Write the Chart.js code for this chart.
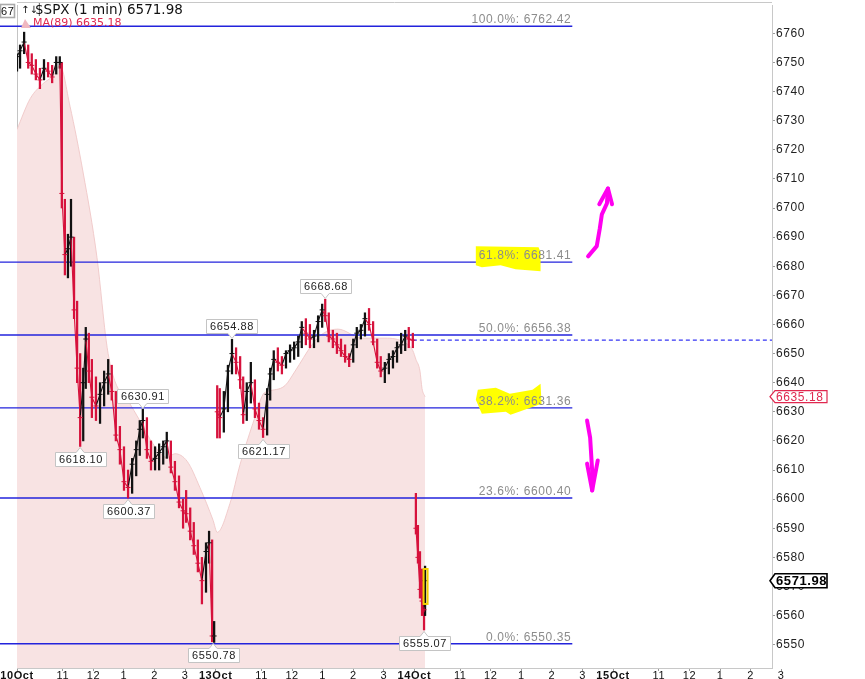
<!DOCTYPE html>
<html>
<head>
<meta charset="utf-8">
<title>$SPX (1 min)</title>
<script src="https://cdn.jsdelivr.net/npm/chart.js@4.4.1/dist/chart.umd.min.js"></script>
<style>
  html, body { margin: 0; padding: 0; background: #fff; }
  #wrap { width: 865px; height: 679px; }
</style>
</head>
<body>
<div id="wrap"><canvas id="spx" width="865" height="679"></canvas></div>
<script>
// trading days shown on the axis (9:30 - 16:00 each, 390 minutes)
const dayKeys = ['10', '13', '14', '15'];
const dayNames = ['10Oct', '13Oct', '14Oct', '15Oct'];
const hourTickTimes = ['11:00', '12:00', '13:00', '14:00', '15:00'];
const hourTickLabels = ['11', '12', '1', '2', '3'];
const yTicks = [6550, 6560, 6570, 6580, 6590, 6600, 6610, 6620, 6630, 6640, 6650,
  6660, 6670, 6680, 6690, 6700, 6710, 6720, 6730, 6740, 6750, 6760];

// price bars (roughly every 6-8 minutes)
const barTime = [
  '10 09:30', '10 09:36', '10 09:44', '10 09:52', '10 09:59', '10 10:07', '10 10:15', '10 10:23',
  '10 10:31', '10 10:39', '10 10:47', '10 10:54', '10 10:58', '10 11:04', '10 11:10', '10 11:16',
  '10 11:22', '10 11:28', '10 11:34', '10 11:40', '10 11:45', '10 11:51', '10 11:57', '10 12:05',
  '10 12:13', '10 12:21', '10 12:29', '10 12:36', '10 12:44', '10 12:52', '10 13:00', '10 13:08',
  '10 13:16', '10 13:24', '10 13:31', '10 13:37', '10 13:45', '10 13:53', '10 14:01', '10 14:09',
  '10 14:17', '10 14:24', '10 14:32', '10 14:40', '10 14:48', '10 14:56', '10 15:02', '10 15:10',
  '10 15:17', '10 15:25', '10 15:33', '10 15:41', '10 15:47', '10 15:53', '10 15:57',
  '13 09:33', '13 09:38', '13 09:46', '13 09:54', '13 10:02', '13 10:10', '13 10:18', '13 10:24',
  '13 10:31', '13 10:39', '13 10:47', '13 10:55', '13 11:03', '13 11:11', '13 11:17', '13 11:24',
  '13 11:32', '13 11:40', '13 11:48', '13 11:56', '13 12:04', '13 12:12', '13 12:19', '13 12:27',
  '13 12:35', '13 12:43', '13 12:51', '13 12:59', '13 13:05', '13 13:12', '13 13:20', '13 13:28',
  '13 13:36', '13 13:44', '13 13:52', '13 14:00', '13 14:07', '13 14:15', '13 14:23', '13 14:31',
  '13 14:39', '13 14:47', '13 14:54', '13 15:02', '13 15:10', '13 15:18', '13 15:26', '13 15:34',
  '13 15:42', '13 15:49', '13 15:57',
  '14 09:33', '14 09:37', '14 09:41', '14 09:45', '14 09:49', '14 09:51'
];
const barHigh = [
  6753, 6756, 6760.4, 6756, 6753, 6751, 6748, 6751, 6750, 6749, 6752, 6752, 6750, 6703, 6691, 6703,
  6690, 6668, 6650, 6645, 6659, 6657, 6648, 6642, 6640, 6644, 6648, 6646, 6637, 6625, 6618, 6610,
  6614, 6620, 6627, 6630.91, 6628, 6620, 6618, 6619, 6620, 6623, 6620, 6613, 6608, 6600, 6603, 6597,
  6592, 6586, 6580, 6585, 6589, 6586, 6558,
  6639, 6638, 6637, 6646, 6654.88, 6652, 6649, 6642, 6640, 6647, 6641, 6633, 6628, 6638, 6645, 6651,
  6652, 6649, 6651, 6653, 6654, 6656, 6661, 6662, 6660, 6658, 6663, 6667, 6668.68, 6664, 6658, 6657,
  6655, 6653, 6650, 6655, 6659, 6660, 6664, 6665.5, 6661, 6655, 6649, 6647, 6650, 6651, 6654, 6657,
  6658, 6659, 6657,
  6602, 6591, 6582, 6576, 6568, 6577
];
const barLow = [
  6747, 6748, 6753, 6748, 6746, 6744, 6741, 6744, 6745, 6743, 6746, 6748, 6700, 6677, 6676, 6680,
  6662, 6640, 6618.1, 6620, 6638, 6640, 6628, 6627, 6626, 6632, 6636, 6634, 6620, 6612, 6603, 6600.37,
  6602, 6608, 6615, 6621, 6614, 6610, 6610, 6610, 6612, 6614, 6609, 6603, 6597, 6590, 6592, 6586,
  6581, 6575, 6564, 6568, 6578, 6551, 6550.78,
  6621, 6621, 6623, 6630, 6643, 6643, 6638, 6626, 6627, 6633, 6628, 6624, 6621.17, 6622, 6634, 6641,
  6644, 6643, 6645, 6647, 6648, 6649, 6652, 6653, 6652, 6652, 6654, 6659, 6661, 6654, 6652, 6650,
  6649, 6647, 6645.5, 6647, 6652, 6655, 6656, 6658, 6653, 6645, 6642, 6640, 6643, 6645, 6647, 6650,
  6651, 6652, 6652,
  6588, 6578, 6566, 6560, 6555.07, 6560
];
const barClose = [
  6752, 6754, 6757, 6750, 6749, 6746, 6744, 6748, 6747, 6745, 6750, 6750, 6705, 6684, 6686, 6690,
  6665, 6645, 6628, 6640, 6655, 6644, 6635, 6632, 6636, 6640, 6643, 6637, 6622, 6617, 6606, 6604,
  6612, 6617, 6624, 6627, 6617, 6613, 6614, 6616, 6618, 6620, 6611, 6606, 6599, 6596, 6595, 6589,
  6584, 6578, 6572, 6582, 6585, 6553, 6553,
  6630, 6628, 6631, 6644, 6650, 6647, 6641, 6629, 6637, 6640, 6631, 6627, 6624, 6636, 6643, 6648,
  6647, 6646, 6650, 6651, 6652, 6654, 6659, 6657, 6655, 6656, 6661, 6665, 6663, 6656, 6655, 6653,
  6651, 6649, 6648, 6653, 6657, 6658, 6662, 6660, 6654, 6647, 6644, 6645, 6648, 6649, 6652, 6653,
  6656, 6655, 6654.6,
  6590, 6580, 6569, 6565, 6562, 6571.98
];
const dayOpen = [6749, 6632, 6601];

// 89-period moving average (upper edge of the pink band)
const maTime = [
  '10 09:30', '10 09:56', '10 10:21', '10 10:41', '10 10:54', '10 11:14', '10 11:40', '10 12:07',
  '10 12:27', '10 12:42', '10 13:08', '10 13:31', '10 13:57', '10 14:24', '10 14:40', '10 15:04',
  '10 15:29', '10 15:55',
  '13 09:33', '13 09:58', '13 10:18', '13 10:43', '13 11:03', '13 11:13', '13 11:46', '13 12:06',
  '13 12:39', '13 12:59', '13 13:30', '13 14:17', '13 15:02', '13 15:42', '13 15:57',
  '14 09:33', '14 09:41', '14 09:45', '14 09:51'
];
const maValue = [
  6727, 6737.6, 6742.7, 6745.5, 6749, 6735, 6712, 6683, 6652, 6640.6, 6633.8, 6627, 6619, 6614.3,
  6615.6, 6613, 6604, 6592.7,
  6588.6, 6598.5, 6612, 6626, 6636, 6637, 6639, 6644, 6653, 6656.7, 6658.4, 6655.3, 6655.3, 6653.7,
  6651,
  6648, 6644, 6638, 6635.18
];

// fibonacci retracement levels
const fibPct = ['100.0%', '61.8%', '50.0%', '38.2%', '23.6%', '0.0%'];
const fibLevel = [6762.42, 6681.41, 6656.38, 6631.36, 6600.40, 6550.35];
const fibMarked = [false, true, false, true, false, false];
const fibEnd = '14 14:40';
const prevClose = 6654.6;
const prevCloseFrom = '13 15:57';

// swing high / low labels
const swingTime = ['13 13:05', '13 10:02', '10 13:37', '10 11:34', '10 13:08', '10 15:55', '13 11:03', '14 09:49'];
const swingValue = [6668.68, 6654.88, 6630.91, 6618.10, 6600.37, 6550.78, 6621.17, 6555.07];
const swingBelow = [false, false, false, true, true, true, true, true];

const lastPrice = 6571.98;
const maLast = 6635.18;

// hand-drawn arrows, as [time, price] points
const arrowUp = [['14 15:11', 6683.4], ['14 15:28', 6686.9], ['14 15:34', 6693], ['14 15:38', 6697.8], ['14 15:48', 6701.6], ['14 15:50', 6706.7]];
const arrowUpHead = [['14 15:33', 6701.3], ['14 15:50', 6706.7], ['14 15:58', 6701.3]];
const arrowDown = [['14 15:09', 6627], ['14 15:15', 6621.1], ['14 15:19', 6609.8], ['14 15:19', 6603]];
const arrowDownHead = [['14 15:09', 6612.2], ['14 15:19', 6603], ['14 15:30', 6613.3]];

const RED = '#d6123c';
const BLACK = '#111111';
const BLUE = '#2323dc';

function toMin(s) {
  const [d, hm] = s.split(' ');
  const [h, m] = hm.split(':').map(Number);
  return dayKeys.indexOf(d) * 390 + h * 60 + m - 570;
}

// x ticks: day start + hours
const xTickValues = [];
const xTickText = [];
dayNames.forEach((name, i) => {
  xTickValues.push(i * 390);
  xTickText.push(name);
  hourTickTimes.forEach((t, j) => {
    xTickValues.push(toMin(dayKeys[i] + ' ' + t));
    xTickText.push(hourTickLabels[j]);
  });
});

// build bar + close datasets
const hlBars = [];
const barColors = [];
const closePts = [];
const closeColors = [];
let prevDay = null;
let lastC = null;
barTime.forEach((t, i) => {
  const d = t.split(' ')[0];
  const x = toMin(t);
  let open;
  if (d !== prevDay) {
    if (prevDay !== null) { closePts.push({ x: x - 1, y: null }); closeColors.push(BLACK); }
    open = dayOpen[dayKeys.indexOf(d)];
  } else {
    open = lastC;
  }
  const col = barClose[i] >= open ? BLACK : RED;
  hlBars.push({ x: x, y: [barLow[i], barHigh[i]] });
  barColors.push(col);
  closePts.push({ x: x, y: barClose[i] });
  closeColors.push(col);
  prevDay = d;
  lastC = barClose[i];
});

const maPts = maTime.map((t, i) => ({ x: toMin(t), y: maValue[i] }));

const fibSets = fibLevel.map(v => ({
  type: 'line',
  data: [{ x: -40, y: v }, { x: toMin(fibEnd), y: v }],
  borderColor: BLUE,
  borderWidth: 1.4,
  pointRadius: 0,
  fill: false,
  clip: { left: 20, top: 0, right: 0, bottom: 0 },
  order: 5
}));

function px(chart, p) {
  return [chart.scales.x.getPixelForValue(toMin(p[0])), chart.scales.y.getPixelForValue(p[1])];
}

function strokePath(ctx, chart, pts) {
  ctx.beginPath();
  pts.forEach((p, i) => {
    const [x, y] = px(chart, p);
    if (i === 0) ctx.moveTo(x, y); else ctx.lineTo(x, y);
  });
  ctx.stroke();
}

function callout(ctx, x, y, text, below) {
  ctx.font = '11px "Liberation Sans", Arial, sans-serif';
  const w = Math.round(ctx.measureText(text).width + 7);
  const h = 14;
  const bx = Math.round(x - w / 2) + 0.5;
  const by = below ? Math.round(y + 6) + 0.5 : Math.round(y - 6 - h) + 0.5;
  ctx.beginPath();
  if (below) {
    ctx.moveTo(bx, by); ctx.lineTo(x - 4, by); ctx.lineTo(x, by - 5); ctx.lineTo(x + 4, by);
    ctx.lineTo(bx + w, by); ctx.lineTo(bx + w, by + h); ctx.lineTo(bx, by + h);
  } else {
    ctx.moveTo(bx, by); ctx.lineTo(bx + w, by); ctx.lineTo(bx + w, by + h); ctx.lineTo(x + 4, by + h);
    ctx.lineTo(x, by + h + 5); ctx.lineTo(x - 4, by + h); ctx.lineTo(bx, by + h);
  }
  ctx.closePath();
  ctx.fillStyle = '#ffffff';
  ctx.fill();
  ctx.strokeStyle = '#c4c4c4';
  ctx.lineWidth = 1;
  ctx.stroke();
  ctx.fillStyle = '#222';
  ctx.textAlign = 'center';
  ctx.textBaseline = 'middle';
  ctx.fillText(text, bx + w / 2, by + h / 2 + 0.5);
}

function tag(ctx, x0, y, text, color, bold) {
  const w = 57, h = bold ? 14 : 12;
  ctx.beginPath();
  ctx.moveTo(x0, y);
  ctx.lineTo(x0 + 5, y - h / 2);
  ctx.lineTo(x0 + w, y - h / 2);
  ctx.lineTo(x0 + w, y + h / 2);
  ctx.lineTo(x0 + 5, y + h / 2);
  ctx.closePath();
  ctx.fillStyle = '#fff';
  ctx.fill();
  ctx.strokeStyle = color;
  ctx.lineWidth = bold ? 1.6 : 1.2;
  ctx.stroke();
  ctx.fillStyle = color;
  ctx.font = (bold ? 'bold 13px ' : '12px ') + '"Liberation Sans", Arial, sans-serif';
  ctx.textAlign = 'left';
  ctx.textBaseline = 'middle';
  ctx.fillText(text, x0 + 6, y + 0.5);
}

const overlay = {
  id: 'overlay',
  beforeDraw(chart) {
    chart.ctx.letterSpacing = '0.6px';
  },
  afterDatasetsDraw(chart) {
    const ctx = chart.ctx;
    const xs = chart.scales.x, ys = chart.scales.y;
    ctx.save();

    // fib level labels, with the yellow marker strokes
    const xe = xs.getPixelForValue(toMin(fibEnd));
    ctx.font = '12px "Liberation Sans", Arial, sans-serif';
    fibLevel.forEach((v, i) => {
      const y = ys.getPixelForValue(v);
      const txt = fibPct[i] + ': ' + v.toFixed(2);
      const tw = ctx.measureText(txt).width;
      if (fibMarked[i]) {
        const l = xe - tw - 4;
        const r = l + tw * 0.7;
        ctx.fillStyle = '#ffff00';
        ctx.beginPath();
        if (i === 1) {
          ctx.moveTo(l, y - 16); ctx.lineTo(r - 2, y - 15); ctx.lineTo(r, y - 10);
          ctx.lineTo(r, y + 9); ctx.lineTo(r - 25, y + 7); ctx.lineTo(r - 40, y + 3);
          ctx.lineTo(l + 6, y + 5); ctx.lineTo(l, y + 3);
        } else {
          ctx.moveTo(l + 2, y - 18); ctx.lineTo(l + 20, y - 20); ctx.lineTo(l + 34, y - 14);
          ctx.lineTo(r - 8, y - 18); ctx.lineTo(r, y - 24); ctx.lineTo(r + 1, y - 4);
          ctx.lineTo(r - 30, y + 7); ctx.lineTo(l + 30, y + 4); ctx.lineTo(l + 6, y + 6); ctx.lineTo(l, y - 8);
        }
        ctx.closePath();
        ctx.fill();
      }
      ctx.fillStyle = '#8c8c8c';
      ctx.textAlign = 'right';
      ctx.textBaseline = 'alphabetic';
      ctx.fillText(txt, xe - 1, y - 3);
    });

    // marker on the last bar
    const lb = barTime.length - 1;
    const lx = xs.getPixelForValue(toMin(barTime[lb]));
    ctx.strokeStyle = '#f2d000';
    ctx.lineWidth = 2;
    ctx.strokeRect(lx - 1.5, ys.getPixelForValue(6576), 4, ys.getPixelForValue(6564) - ys.getPixelForValue(6576));

    // swing labels
    swingTime.forEach((t, i) => {
      const x = xs.getPixelForValue(toMin(t));
      const y = ys.getPixelForValue(swingValue[i]);
      callout(ctx, x, y, swingValue[i].toFixed(2), swingBelow[i]);
    });

    // magenta arrows
    ctx.strokeStyle = '#ff00f0';
    ctx.lineWidth = 4;
    ctx.lineCap = 'round';
    ctx.lineJoin = 'round';
    strokePath(ctx, chart, arrowUp);
    strokePath(ctx, chart, arrowUpHead);
    strokePath(ctx, chart, arrowDown);
    strokePath(ctx, chart, arrowDownHead);
    ctx.restore();
  },
  afterDraw(chart) {
    const ctx = chart.ctx;
    const a = chart.chartArea;
    const ys = chart.scales.y;
    ctx.save();
    // frame top
    ctx.strokeStyle = '#c8c8c8';
    ctx.lineWidth = 1;
    ctx.beginPath();
    ctx.moveTo(a.left, 2.5);
    ctx.lineTo(a.right, 2.5);
    ctx.stroke();

    // value tags on the price axis
    tag(ctx, a.right - 2, ys.getPixelForValue(maLast), maLast.toFixed(2), '#e0284f', false);
    tag(ctx, a.right - 2, ys.getPixelForValue(lastPrice), lastPrice.toFixed(2), '#000', true);

    // clipped axis tag at top-left
    ctx.fillStyle = '#fff';
    ctx.fillRect(0, 4, 15, 14);
    ctx.strokeStyle = '#aaa';
    ctx.strokeRect(0.5, 4.5, 14, 13);
    ctx.save();
    ctx.beginPath();
    ctx.rect(0, 4, 14, 14);
    ctx.clip();
    ctx.fillStyle = '#111';
    ctx.font = '11px "Liberation Sans", Arial, sans-serif';
    ctx.textAlign = 'left';
    ctx.textBaseline = 'middle';
    ctx.fillText('6762', 1, 11.5);
    ctx.restore();

    // title + MA legend
    ctx.letterSpacing = '0px';
    ctx.fillStyle = '#111';
    ctx.textAlign = 'left';
    ctx.textBaseline = 'middle';
    ctx.font = '10px "DejaVu Sans", sans-serif';
    ctx.fillText('↑↓', 21, 10.5);
    ctx.font = '13.5px "DejaVu Sans", Verdana, sans-serif';
    ctx.fillText('$SPX (1 min) ' + lastPrice.toFixed(2), 35, 10.5);
    ctx.fillStyle = '#f0b8c0';
    ctx.beginPath();
    ctx.moveTo(21, 28); ctx.lineTo(25, 19); ctx.lineTo(31, 28); ctx.closePath();
    ctx.fill();
    ctx.fillStyle = '#e0284f';
    ctx.font = '11px "DejaVu Sans", Verdana, sans-serif';
    ctx.fillText('MA(89) ' + maLast.toFixed(2), 33, 23.5);
    ctx.restore();
    ctx.letterSpacing = '0px';
  }
};

new Chart(document.getElementById('spx'), {
  data: {
    datasets: [
      {
        type: 'line',
        label: 'MA(89)',
        data: maPts,
        borderColor: 'rgba(240, 200, 200, 0.9)',
        borderWidth: 1,
        backgroundColor: '#f8e3e3',
        fill: 'start',
        pointRadius: 0,
        cubicInterpolationMode: 'monotone',
        order: 10
      },
      ...fibSets,
      {
        type: 'line',
        data: [{ x: toMin(prevCloseFrom), y: prevClose }, { x: 2000, y: prevClose }],
        borderColor: '#3434f4',
        borderWidth: 1.2,
        borderDash: [4, 3],
        pointRadius: 0,
        fill: false,
        order: 5
      },
      {
        type: 'bar',
        label: '$SPX range',
        data: hlBars,
        backgroundColor: barColors,
        borderWidth: 0,
        barThickness: 1.6,
        grouped: false,
        order: 2
      },
      {
        type: 'line',
        label: '$SPX',
        data: closePts,
        borderWidth: 1.1,
        segment: { borderColor: c => (c.p1.parsed.y >= c.p0.parsed.y ? BLACK : RED) },
        pointStyle: 'cross',
        pointRadius: 2.5,
        pointBorderWidth: 1,
        pointBorderColor: closeColors,
        spanGaps: false,
        fill: false,
        order: 1
      }
    ]
  },
  options: {
    responsive: false,
    animation: false,
    devicePixelRatio: 1,
    layout: { padding: { left: 17, top: 0, right: 0, bottom: 0 } },
    plugins: {
      legend: { display: false },
      tooltip: { enabled: false },
      title: { display: false }
    },
    scales: {
      x: {
        type: 'linear',
        offset: false,
        min: 0,
        max: 1482,
        afterBuildTicks: s => { s.ticks = xTickValues.map(v => ({ value: v })); },
        afterFit: s => { s.height = 11; s.paddingLeft = 0; s.paddingRight = 0; },
        ticks: {
          autoSkip: false,
          maxRotation: 0,
          padding: -2,
          color: '#111',
          font: c => ({
            family: '"Liberation Sans", Arial, sans-serif',
            size: 11,
            weight: /Oct/.test(xTickText[c.index] || '') ? 'bold' : 'normal'
          }),
          callback: (v, i) => xTickText[i]
        },
        grid: {
          offset: false,
          drawOnChartArea: true,
          color: c => (c.tick && c.tick.value === 0 ? '#c4c4c4' : 'rgba(0,0,0,0)'),
          tickLength: 3,
          tickColor: '#999'
        },
        border: { color: '#c8c8c8' }
      },
      y: {
        type: 'linear',
        position: 'right',
        min: 6542.0,
        max: 6769.73,
        afterBuildTicks: s => { s.ticks = yTicks.map(v => ({ value: v })); },
        afterFit: s => { s.width = 93; s.paddingTop = 0; s.paddingBottom = 0; },
        ticks: {
          color: '#222',
          padding: 1,
          font: { family: '"Liberation Sans", Arial, sans-serif', size: 12 },
          callback: v => String(v)
        },
        grid: { drawOnChartArea: false, tickLength: 3, tickColor: '#999' },
        border: { color: '#c8c8c8' }
      }
    }
  },
  plugins: [overlay]
});
</script>
</body>
</html>
